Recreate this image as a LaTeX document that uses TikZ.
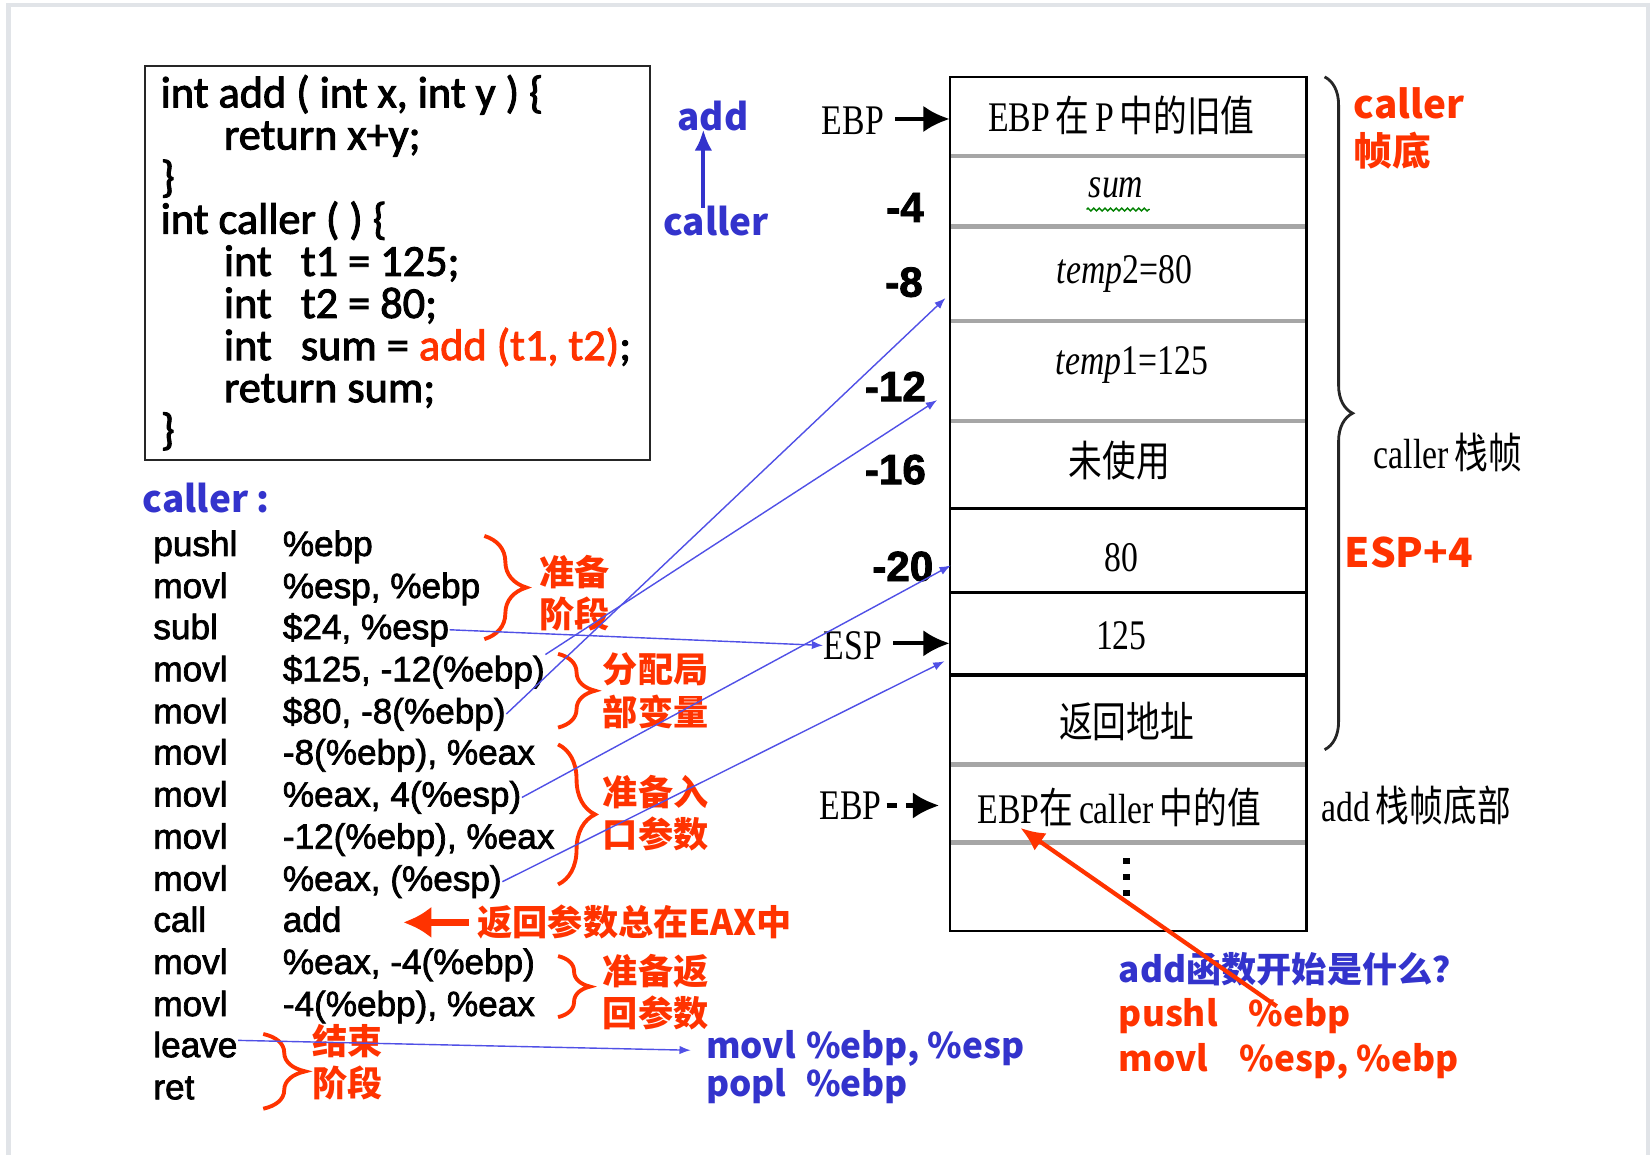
\documentclass[tikz,border=0pt]{standalone}
\usepackage{fontspec}
\usepackage{graphicx}
\usetikzlibrary{arrows.meta,calc,decorations.pathreplacing,decorations.pathmorphing}
\setmainfont{Liberation Serif}
\newfontfamily\codefont{Carlito}[FakeBold=2.2]
\newfontfamily\asmfont{Liberation Sans}[FakeBold=2]
\newfontfamily\cjk{Noto Sans CJK SC}
\definecolor{nred}{RGB}{255,51,0}
\definecolor{nblue}{RGB}{51,51,204}
\definecolor{lblue}{RGB}{80,80,230}
\definecolor{frame}{RGB}{225,228,232}
\newcommand{\tall}[1]{\scalebox{0.8}[1]{#1}}
\tikzset{
  code/.style={font=\codefont\fontsize{12.6}{15}\selectfont, anchor=base west, inner sep=0pt},
  asm/.style={font=\asmfont\fontsize{10}{12}\selectfont, anchor=base west, inner sep=0pt},
  note/.style={font=\cjk\bfseries\fontsize{10}{12}\selectfont, text=nred, anchor=west, align=left, inner sep=0pt},
  hint/.style={font=\cjk\bfseries\fontsize{10}{12}\selectfont, anchor=base west, inner sep=0pt},
  cell/.style={font=\fontsize{12}{14}\selectfont, inner sep=0pt},
  off/.style={font=\asmfont\bfseries\fontsize{12}{14}\selectfont, anchor=east, inner sep=0pt},
  link/.style={draw=lblue, line width=0.4pt, -{Latex[length=3.2pt,width=2.4pt]}},
  ptr/.style={line width=1.2pt, -{Latex[length=7.5pt,width=7.5pt]}},
  rbrace/.style={draw=nred, line width=1.1pt, decorate, decoration={brace, amplitude=#1}},
  sep/.style={draw=gray!70, line width=1.3pt},
}
\begin{document}
\begin{tikzpicture}[x=0.01053cm, y=-0.01053cm]
\useasboundingbox (0,0) rectangle (1568,1097);
\draw[frame, line width=1.2pt] (8,1097) -- (8,5) -- (1565,5) -- (1565,1097);

% C source
\draw[gray!30!black, line width=0.6pt] (138,63) rectangle (617,437);
\node[code] (c1) at (152,102) {int add ( int x, int y ) \{};
\node[code] (c2) at (212,142) {return x+y;};
\node[code] (c3) at (152,182) {\}};
\node[code] (c4) at (152,222) {int caller ( ) \{};
\node[code] (c5) at (212,262) {\makebox[0.77cm][l]{int}t1 = 125;};
\node[code] (c6) at (212,302) {\makebox[0.77cm][l]{int}t2 = 80;};
\node[code] (c7) at (212,342) {\makebox[0.77cm][l]{int}sum = \textcolor{nred}{add (t1, t2)};};
\node[code] (c8) at (212,382) {return sum;};
\node[code] (c9) at (152,422) {\}};

\node[hint, anchor=center, text=nblue, font=\cjk\bfseries\fontsize{10.5}{13}\selectfont] (fadd) at (677,110) {add};
\node[hint, anchor=center, text=nblue, font=\cjk\bfseries\fontsize{10.5}{13}\selectfont] (fcaller) at (680,210) {caller};
\draw[nblue, line width=1.2pt, -{Latex[length=6pt,width=5pt]}] ($(fcaller.north)+(-12,2)$) -- ($(fadd.south)+(-9,-2)$);

% assembly of caller
\node[hint, text=nblue, font=\cjk\bfseries\fontsize{10.5}{13}\selectfont] (cname) at (135,487) {caller :};
\node[asm] (pushl) at (145,528) {\makebox[1.295cm][l]{pushl}\%ebp};
\node[asm] (movesp) at (145,568) {\makebox[1.295cm][l]{movl}\%esp, \%ebp};
\node[asm] (subl) at (145,607) {\makebox[1.295cm][l]{subl}\$24, \%esp};
\node[asm] (mova) at (145,647) {\makebox[1.295cm][l]{movl}\$125, -12(\%ebp)};
\node[asm] (movb) at (145,687) {\makebox[1.295cm][l]{movl}\$80, -8(\%ebp)};
\node[asm] (ldb) at (145,726) {\makebox[1.295cm][l]{movl}-8(\%ebp), \%eax};
\node[asm] (stb) at (145,766) {\makebox[1.295cm][l]{movl}\%eax, 4(\%esp)};
\node[asm] (lda) at (145,806) {\makebox[1.295cm][l]{movl}-12(\%ebp), \%eax};
\node[asm] (sta) at (145,846) {\makebox[1.295cm][l]{movl}\%eax, (\%esp)};
\node[asm] (call) at (145,885) {\makebox[1.295cm][l]{call}add};
\node[asm] (stret) at (145,925) {\makebox[1.295cm][l]{movl}\%eax, -4(\%ebp)};
\node[asm] (ldret) at (145,965) {\makebox[1.295cm][l]{movl}-4(\%ebp), \%eax};
\node[asm] (leave) at (145,1004) {leave};
\node[asm] (ret) at (145,1044) {ret};

% phases
\draw[rbrace=0.42cm] (460,509) -- (460,607);
\node[note] (prep) at (512,563) {准备\\阶段};
\draw[rbrace=0.37cm] (530,621) -- (530,691);
\node[note] (alloc) at (572,656) {分配局\\部变量};
\draw[rbrace=0.37cm] (530,707) -- (530,840);
\node[note] (args) at (572,772) {准备入\\口参数};
\draw[rbrace=0.32cm] (530,908) -- (530,966);
\node[note] (retv) at (572,942) {准备返\\回参数};
\draw[rbrace=0.42cm] (250,982) -- (250,1053);
\node[note] (fin) at (296,1009) {结束\\阶段};
\node[note] (eax) at (453,876) {返回参数总在EAX中};
\draw[nred, line width=2pt, -{Latex[length=8pt,width=9pt]}] ($(eax.west)+(-8,0)$) -- ++(-62,0);

% stack
\coordinate (stl) at (902,73);
\coordinate (sbr) at (1241,884);
\draw[sep] (902,148) -- (1241,148);
\draw[sep] (902,215) -- (1241,215);
\draw[sep] (902,305) -- (1241,305);
\draw[sep] (902,400) -- (1241,400);
\draw[line width=0.9pt] (902,483) -- (1241,483);
\draw[line width=0.9pt] (902,563) -- (1241,563);
\draw[line width=0.9pt] (902,641) -- (1241,641);
\draw[sep] (902,726) -- (1241,726);
\draw[sep] (902,800) -- (1241,800);
\draw[line width=0.7pt] (stl) rectangle (sbr);
\node[cell] (old) at (1065,110) {\tall{EBP\,{\cjk 在}\,P\,{\cjk 中的旧值}}};
\node[cell] (sum) at (1060,178) {\tall{\textit{sum}}};
\draw[green!50!black, decorate, decoration={zigzag, amplitude=0.4pt, segment length=1.6pt}] (1032,199) -- (1092,199);
\node[cell] (tmpb) at (1068,260) {\tall{\textit{temp}2=80}};
\node[cell] (tmpa) at (1075,347) {\tall{\textit{temp}1=125}};
\node[cell] (unused) at (1063,437) {\tall{\cjk 未使用}};
\node[cell] (v80) at (1065,530) {\tall{80}};
\node[cell] (v125) at (1065,604) {\tall{125}};
\node[cell] (raddr) at (1070,685) {\tall{\cjk 返回地址}};
\node[cell] (cebp) at (1063,767) {\tall{EBP{\cjk 在}\,caller\,{\cjk 中的值}}};
\fill (1067,815) rectangle (1073,821);
\fill (1067,830) rectangle (1073,836);
\fill (1067,845) rectangle (1073,851);

\node[cell] (ebpl) at (810,115) {\tall{EBP}};
\draw[ptr] ($(ebpl.east)+(10,-2)$) -- ($(ebpl.east -| stl)+(0,-2)$);
\node[cell] (espl) at (810,613) {\tall{ESP}};
\draw[ptr] ($(espl.east)+(10,-2)$) -- ($(espl.east -| stl)+(0,-2)$);
\node[cell] (ebpb) at (808,765) {\tall{EBP}};
\draw[ptr, dash pattern=on 3pt off 2.5pt] ($(ebpb.east)+(4,0)$) -- (892,765);
\node[off] (o4) at (878,197) {-4};
\node[off] (o8) at (877,268) {-8};
\node[off] (o12) at (880,367) {-12};
\node[off] (o16) at (880,446) {-16};
\node[off] (o20) at (887,538) {-20};

\draw[draw=gray!30!black, line width=0.8pt, decorate, decoration={brace, amplitude=0.28cm}] (1258,73) -- (1258,712);
\node[hint, text=nred, font=\cjk\bfseries\fontsize{11}{13.5}\selectfont, anchor=west, align=left] (cbot) at (1285,122) {caller\\帧底};
\node[cell] (cframe) at (1375,430) {\tall{caller\,{\cjk 栈帧}}};
\node[hint, text=nred, font=\cjk\bfseries\fontsize{11.5}{14}\selectfont, anchor=center] (esp4) at (1338,525) {ESP+4};
\node[cell] (abot) at (1345,765) {\tall{add\,{\cjk 栈帧底部}}};

% leave and the start of add
\node[hint, text=nblue] (mvback) at (670,1005) {\makebox[1cm][l]{movl}\%ebp, \%esp};
\node[hint, text=nblue] (popback) at (670,1041) {\makebox[1cm][l]{popl}\%ebp};
\node[hint, text=nblue] (ask) at (1062,933) {add函数开始是什么？};
\node[hint, text=nred] (pushr) at (1062,975) {\makebox[1.295cm][l]{pushl}\%ebp};
\node[hint, text=nred] (movr) at (1062,1018) {\makebox[1.21cm][l]{movl}\%esp, \%ebp};

% links
\coordinate (at8) at (898,283);
\coordinate (at12) at (890,380);
\coordinate (at20) at (903,537);
\coordinate (at0) at (897,628);
\draw[link] (subl.east) -- (espl.west);
\draw[link] (mova.north east) -- (at12);
\draw[link] (movb.east) -- (at8);
\draw[link] (stb.east) -- (at20);
\draw[link] (sta.east) -- (at0);
\draw[link] ($(leave.east)+(0,-4)$) -- ($(mvback.west)+(-14,2)$);
\draw[nred, line width=1.2pt, -{Latex[length=7pt,width=6pt]}] ($(pushr.north)+(40,8)$) -- ($(cebp.south west)+(41,0)$);
\end{tikzpicture}
\end{document}
